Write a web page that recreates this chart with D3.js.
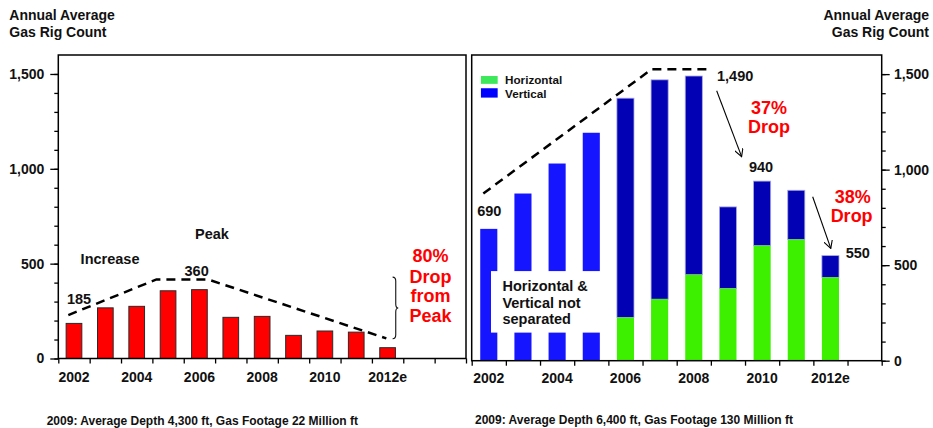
<!DOCTYPE html>
<html><head><meta charset="utf-8">
<script src="https://cdn.jsdelivr.net/npm/d3@7"></script>
<style>
body{margin:0;background:#fff}
svg{display:block}
text{font-family:"Liberation Sans",Arial,sans-serif;font-weight:bold}
</style>
</head><body>
<svg id="c" width="933" height="428"></svg>
<script>
// ---------- data ----------
const leftYears = ["2002","2003","2004","2005","2006","2007","2008","2009","2010","2011","2012e","2013","2014"];
const leftValues = [185,267,275,357,363,217,222,122,145,139,57];
const rightYears = ["2002","2003","2004","2005","2006","2007","2008","2009","2010","2011","2012e","2013"];
const rightTotal = [690,875,1032,1193,1374,1470,1490,805,940,892,550];
const rightHorizontal = [null,null,null,null,226,322,450,378,602,634,436];
const xLabelYears = ["2002","2004","2006","2008","2010","2012e"];
const yTickValues = [0,100,200,300,400,500,600,700,800,900,1000,1100,1200,1300,1400,1500];
const yLabelValues = [0,500,1000,1500];
// trend lines (position in category units from left edge, value)
const leftTrendPos = [0.32,3.13,4.77,10.46];
const leftTrendVal = [229,417,417,106];
const rightTrendPos = [0.34,5.27,6.92];
const rightTrendVal = [875,1526,1526];
const seriesNames = ["Horizontal","Vertical"];

// ---------- setup ----------
const svg = d3.select("#c");
const ink = "#111";
const fmt = d3.format(",");

function panel(opts){
  const {cats, x0, x1, y0, y1} = opts;
  const band = d3.scaleBand().domain(cats).range([x0,x1]).paddingInner(0.5).paddingOuter(0.25);
  const edge = d3.scaleLinear().domain([0,cats.length]).range([x0,x1]);
  const y = d3.scaleLinear().domain([0,1600]).range([y0,y1]);
  const g = svg.append("g");
  return {band, edge, y, g};
}

// ---------- LEFT PANEL ----------
const L = panel({cats:leftYears, x0:58.3, x1:466, y0:358.5, y1:55});
L.g.selectAll("rect.bar").data(leftValues).join("rect")
  .attr("x",(d,i)=>L.band(leftYears[i]))
  .attr("width",L.band.bandwidth())
  .attr("y",d=>L.y(d))
  .attr("height",d=>L.y(0)-L.y(d))
  .attr("fill","#ff0000").attr("stroke","#2a2a2a").attr("stroke-width",1);
L.g.append("rect").attr("x",L.edge(0)).attr("y",L.y(1600))
  .attr("width",L.edge(13)-L.edge(0)).attr("height",L.y(0)-L.y(1600))
  .attr("fill","none").attr("stroke","#000").attr("stroke-width",1.5);
function styleAxis(sel){
  sel.select(".domain").remove();
  sel.selectAll("line").attr("stroke","#000").attr("stroke-width",1.3);
  sel.selectAll("text").attr("fill",ink).style("font-size","14px").style("font-weight","bold")
     .style("font-family",'"Liberation Sans",Arial,sans-serif');
}
L.g.append("g").attr("transform",`translate(${L.edge(0)},0)`)
  .call(d3.axisLeft(L.y).tickValues(yTickValues).tickSize(4).tickFormat(""))
  .call(styleAxis);
L.g.append("g").attr("transform",`translate(${L.edge(0)},0)`)
  .call(d3.axisLeft(L.y).tickValues(yLabelValues).tickSize(8).tickPadding(6).tickFormat(fmt))
  .call(styleAxis);
L.g.append("g").attr("transform",`translate(0,${L.y(0)})`)
  .call(d3.axisBottom(L.edge).tickValues(d3.range(0,14)).tickSize(5).tickFormat(""))
  .call(styleAxis);
L.g.selectAll("text.xl").data(xLabelYears).join("text")
  .attr("x",d=>L.band(d)+L.band.bandwidth()/2).attr("y",376.7).attr("dy","0.35em")
  .attr("text-anchor","middle").attr("fill",ink).style("font-size","14px").text(d=>d);
const lineL = d3.line().x(d=>L.edge(d[0])).y(d=>L.y(d[1]));
L.g.append("path").datum(leftTrendPos.map((p,i)=>[p,leftTrendVal[i]]))
  .attr("d",lineL).attr("fill","none").attr("stroke","#000").attr("stroke-width",2.5)
  .attr("stroke-dasharray","9,6");
function lab(P,u,v,t,opt={}){
  return P.g.append("text").attr("x",P.edge(u)).attr("y",P.y(v)).attr("dy","0.35em")
    .attr("text-anchor",opt.anchor||"middle").attr("fill",opt.fill||ink)
    .style("font-size",(opt.size||14.5)+"px").text(t);
}
lab(L,0.66,312,"185");
lab(L,4.41,463,"360");
lab(L,1.65,523,"Increase");
lab(L,4.9,656,"Peak");
[["80%",540],["Drop",431],["from",331],["Peak",226]].forEach(d=>lab(L,11.87,d[1],d[0],{fill:"#ff0000",size:18}));
(function(){
  const xa=L.edge(10.66), xb=L.edge(10.76), xt=L.edge(10.84);
  const yt=L.y(429), yb=L.y(104), ym=L.y(266);
  const p=`M${xa},${yt} Q${xb},${yt} ${xb},${yt+4} L${xb},${ym-4} Q${xb},${ym} ${xt},${ym} Q${xb},${ym} ${xb},${ym+4} L${xb},${yb-4} Q${xb},${yb} ${xa},${yb}`;
  L.g.append("path").attr("d",p).attr("fill","none").attr("stroke","#111").attr("stroke-width",1.1);
})();
svg.append("text").attr("x",46.7).attr("y",420.7).attr("dy","0.35em").attr("fill",ink)
  .style("font-size","12px").text("2009: Average Depth 4,300 ft, Gas Footage 22 Million ft");
svg.append("text").attr("x",9.3).attr("y",15).attr("dy","0.35em").attr("fill",ink).style("font-size","14px").text("Annual Average");
svg.append("text").attr("x",9.3).attr("y",32).attr("dy","0.35em").attr("fill",ink).style("font-size","14px").text("Gas Rig Count");

// ---------- RIGHT PANEL ----------
const R = panel({cats:rightYears, x0:471.7, x1:881.7, y0:360.7, y1:55});
const colCombined="#1515ff", colVert="#0202b4", colHoriz="#3cf000";
rightTotal.forEach((t,i)=>{
  const x=R.band(rightYears[i]), w=R.band.bandwidth();
  const h=rightHorizontal[i];
  if(h==null){
    R.g.append("rect").attr("x",x).attr("width",w).attr("y",R.y(t)).attr("height",R.y(0)-R.y(t)).attr("fill",colCombined);
  } else {
    R.g.append("rect").attr("x",x).attr("width",w).attr("y",R.y(t)).attr("height",R.y(h)-R.y(t))
      .attr("fill",colVert).attr("stroke","#a8a8e8").attr("stroke-width",0.8);
    R.g.append("rect").attr("x",x).attr("width",w).attr("y",R.y(h)).attr("height",R.y(0)-R.y(h))
      .attr("fill",colHoriz);
  }
});
R.g.append("rect").attr("x",R.edge(0.565)).attr("y",R.y(469)).attr("width",R.edge(3.92)-R.edge(0.565))
  .attr("height",R.y(147)-R.y(469)).attr("fill","#fff");
[["Horizontal  &",391],["Vertical not",300],["separated",217]].forEach(d=>lab(R,0.9,d[1],d[0],{anchor:"start"}));
R.g.append("rect").attr("x",R.edge(0)).attr("y",R.y(1600))
  .attr("width",R.edge(12)-R.edge(0)).attr("height",R.y(0)-R.y(1600))
  .attr("fill","none").attr("stroke","#000").attr("stroke-width",1.5);
R.g.append("g").attr("transform",`translate(${R.edge(12)},0)`)
  .call(d3.axisRight(R.y).tickValues(yTickValues).tickSize(4).tickFormat(""))
  .call(styleAxis);
R.g.append("g").attr("transform",`translate(${R.edge(12)},0)`)
  .call(d3.axisRight(R.y).tickValues(yLabelValues).tickSize(8).tickPadding(4.3).tickFormat(fmt))
  .call(styleAxis);
R.g.append("g").attr("transform",`translate(0,${R.y(0)})`)
  .call(d3.axisBottom(R.edge).tickValues(d3.range(0,13)).tickSize(5).tickFormat(""))
  .call(styleAxis);
R.g.selectAll("text.xl").data(xLabelYears).join("text")
  .attr("x",d=>R.band(d)+R.band.bandwidth()/2).attr("y",378).attr("dy","0.35em")
  .attr("text-anchor","middle").attr("fill",ink).style("font-size","14px").text(d=>d);
const lineR = d3.line().x(d=>R.edge(d[0])).y(d=>R.y(d[1]));
R.g.append("path").datum(rightTrendPos.map((p,i)=>[p,rightTrendVal[i]]))
  .attr("d",lineR).attr("fill","none").attr("stroke","#000").attr("stroke-width",2.5)
  .attr("stroke-dasharray","9,6");
const legCols=["#3de85a","#0000ff"];
seriesNames.forEach((n,i)=>{
  const vTop=[1490,1426][i], vBot=[1449,1377][i];
  R.g.append("rect").attr("x",R.edge(0.27)).attr("y",R.y(vTop)).attr("width",R.edge(0.76)-R.edge(0.27))
    .attr("height",R.y(vBot)-R.y(vTop)).attr("fill",legCols[i]);
  lab(R,0.975,[1469,1396][i],n,{anchor:"start",size:11.7});
});
lab(R,0.515,785,"690");
lab(R,7.71,1490,"1,490");
lab(R,8.47,1012,"940");
lab(R,11.3,565,"550");
lab(R,8.7,1326,"37%",{fill:"#ff0000",size:18});
lab(R,8.7,1225,"Drop",{fill:"#ff0000",size:18});
lab(R,11.15,858,"38%",{fill:"#ff0000",size:18});
lab(R,11.12,759,"Drop",{fill:"#ff0000",size:18});
const defs=svg.append("defs");
defs.append("marker").attr("id","ah").attr("viewBox","0 0 10 10").attr("refX",9).attr("refY",5)
  .attr("markerWidth",9).attr("markerHeight",9).attr("markerUnits","userSpaceOnUse").attr("orient","auto")
  .append("path").attr("d","M0,0 L9,5 L0,10").attr("fill","none").attr("stroke","#000").attr("stroke-width",1.2);
[[7.17,1413,7.9,1068],[9.98,858,10.51,588]].forEach(a=>{
  R.g.append("line").attr("x1",R.edge(a[0])).attr("y1",R.y(a[1])).attr("x2",R.edge(a[2])).attr("y2",R.y(a[3]))
    .attr("stroke","#000").attr("stroke-width",1.1).attr("marker-end","url(#ah)");
});
svg.append("text").attr("x",475).attr("y",420).attr("dy","0.35em").attr("fill",ink)
  .style("font-size","12px").text("2009: Average Depth 6,400 ft, Gas Footage 130 Million ft");
svg.append("text").attr("x",929).attr("y",15).attr("dy","0.35em").attr("text-anchor","end").attr("fill",ink).style("font-size","14px").text("Annual Average");
svg.append("text").attr("x",929).attr("y",32).attr("dy","0.35em").attr("text-anchor","end").attr("fill",ink).style("font-size","14px").text("Gas Rig Count");
</script>
</body></html>
